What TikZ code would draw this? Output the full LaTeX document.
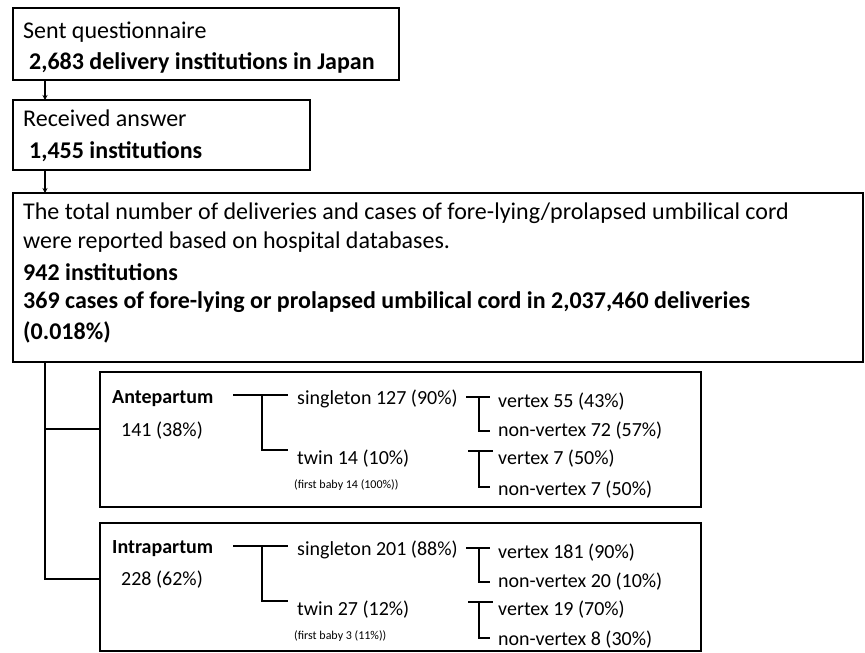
\documentclass[tikz,border=0pt]{standalone}
\usepackage{fontspec}
\setmainfont{Carlito}
\usetikzlibrary{arrows.meta}
\tikzset{
  box/.style={draw, line width=1.4pt, anchor=north west, inner sep=0pt, outer sep=0pt},
  big/.style={anchor=west, inner sep=0pt, font=\fontsize{24}{29}\selectfont},
  bigb/.style={big, font=\fontsize{24}{29}\selectfont\bfseries},
  mid/.style={anchor=west, inner sep=0pt, font=\fontsize{20}{24}\selectfont},
  midb/.style={mid, font=\fontsize{20}{24}\selectfont\bfseries},
  tiny/.style={anchor=west, inner sep=0pt, font=\fontsize{12}{14}\selectfont},
  conn/.style={line width=1.2pt},
  arr/.style={conn, -{Stealth[length=5pt,width=5pt]}}
}
\begin{document}
\begin{tikzpicture}[x=1pt,y=-1pt]
\useasboundingbox (0,0) rectangle (865,653);
% boxes
\node[box, minimum width=386pt, minimum height=72pt] (b1) at (13,8) {};
\node[box, minimum width=297pt, minimum height=70pt] (b2) at (13,100) {};
\node[box, minimum width=850pt, minimum height=169pt] (b3) at (13,193) {};
\node[box, minimum width=601pt, minimum height=135pt] (ante) at (100,372) {};
\node[box, minimum width=601pt, minimum height=128pt] (intra) at (100,523) {};
% texts box 1-3
\node[big] (t1a) at (23,32) {Sent questionnaire};
\node[bigb] (t1b) at (29,63) {2,683 delivery institutions in Japan};
\node[big] (t2a) at (23,118) {Received answer};
\node[bigb] (t2b) at (29,152) {1,455 institutions};
\node[big] (t3a) at (23,213) {The total number of deliveries and cases of fore-lying/prolapsed umbilical cord};
\node[big] (t3b) at (23,242) {were reported based on hospital databases.};
\node[bigb] (t3c) at (23,272) {942 institutions};
\node[bigb] (t3d) at (23,302) {369 cases of fore-lying or prolapsed umbilical cord in 2,037,460 deliveries};
\node[bigb] (t3e) at (23,332) {(0.018\%)};
% arrows
\coordinate (ax) at (45,0);
\draw[arr] (b1.south -| ax) -- (b2.north -| ax);
\draw[arr] (b2.south -| ax) -- (b3.north -| ax);
% main branch
\coordinate (ja) at (45,429);
\coordinate (ji) at (45,579);
\draw[conn] (b3.south -| ax) -- (ji) -- (ji -| intra.west);
\draw[conn] (ja) -- (ja -| ante.west);
% Antepartum box
\node[midb] (an) at (112,399) {Antepartum};
\node[mid] (ann) at (121,431) {141 (38\%)};
\node[mid] (as) at (297,399) {singleton 127 (90\%)};
\node[mid] (at) at (297,459) {twin 14 (10\%)};
\node[tiny] (atf) at (294,485) {(first baby 14 (100\%))};
\node[mid] (asv) at (498,402) {vertex 55 (43\%)};
\node[mid] (asn) at (498,431) {non-vertex 72 (57\%)};
\node[mid] (atv) at (498,459) {vertex 7 (50\%)};
\node[mid] (atn) at (498,490) {non-vertex 7 (50\%)};
\coordinate (a1) at (233,395);
\coordinate (a2) at (288,395);
\coordinate (a3) at (262,395);
\coordinate (a4) at (262,450);
\coordinate (a5) at (288,450);
\draw[conn] (a1) -- (a2);
\draw[conn] (a3) -- (a4) -- (a5);
\coordinate (as1) at (466,397);
\coordinate (as2) at (490,397);
\coordinate (as3) at (479,397);
\coordinate (as4) at (479,431);
\coordinate (as5) at (490,431);
\draw[conn] (as1) -- (as2);
\draw[conn] (as3) -- (as4) -- (as5);
\coordinate (at1) at (468,451);
\coordinate (at2) at (493,451);
\coordinate (at3) at (479,451);
\coordinate (at4) at (479,487);
\coordinate (at5) at (490,487);
\draw[conn] (at1) -- (at2);
\draw[conn] (at3) -- (at4) -- (at5);
% Intrapartum box
\node[midb] (in) at (112,549) {Intrapartum};
\node[mid] (inn) at (121,580) {228 (62\%)};
\node[mid] (is) at (297,550) {singleton 201 (88\%)};
\node[mid] (it) at (297,610) {twin 27 (12\%)};
\node[tiny] (itf) at (294,636) {(first baby 3 (11\%))};
\node[mid] (isv) at (498,553) {vertex 181 (90\%)};
\node[mid] (isn) at (498,582) {non-vertex 20 (10\%)};
\node[mid] (itv) at (498,610) {vertex 19 (70\%)};
\node[mid] (itn) at (498,640) {non-vertex 8 (30\%)};
\coordinate (i1) at (233,546);
\coordinate (i2) at (288,546);
\coordinate (i3) at (262,546);
\coordinate (i4) at (262,601);
\coordinate (i5) at (288,601);
\draw[conn] (i1) -- (i2);
\draw[conn] (i3) -- (i4) -- (i5);
\coordinate (is1) at (466,548);
\coordinate (is2) at (490,548);
\coordinate (is3) at (479,548);
\coordinate (is4) at (479,582);
\coordinate (is5) at (490,582);
\draw[conn] (is1) -- (is2);
\draw[conn] (is3) -- (is4) -- (is5);
\coordinate (it1) at (468,602);
\coordinate (it2) at (493,602);
\coordinate (it3) at (479,602);
\coordinate (it4) at (479,638);
\coordinate (it5) at (490,638);
\draw[conn] (it1) -- (it2);
\draw[conn] (it3) -- (it4) -- (it5);
\end{tikzpicture}
\end{document}
